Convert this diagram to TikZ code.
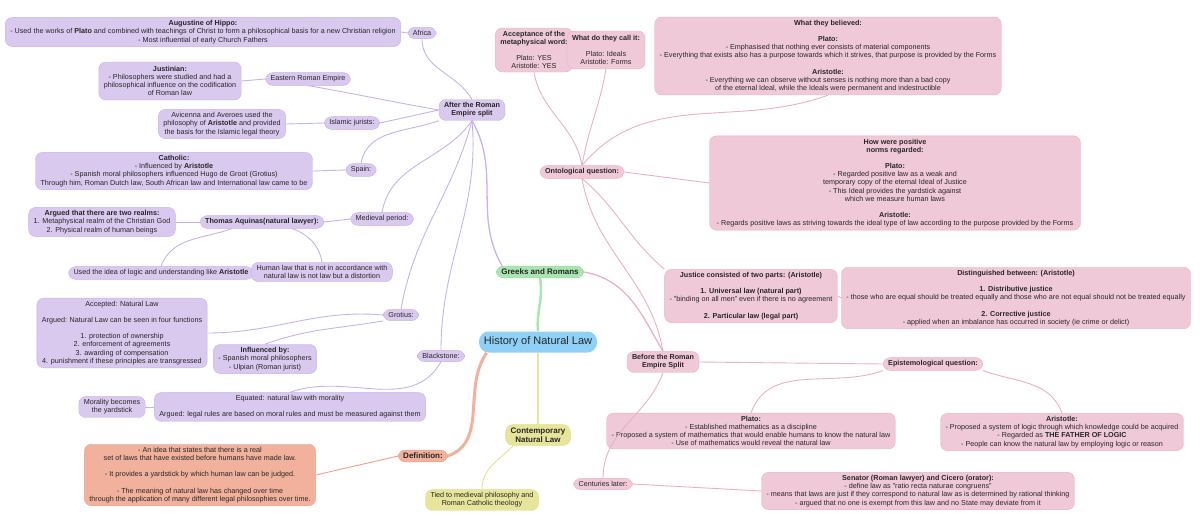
\documentclass[tikz,border=0pt]{standalone}
\usepackage{fontspec}
\setmainfont{Liberation Sans}
\usetikzlibrary{positioning}
\definecolor{purpFill}{HTML}{D9C9EE}
\definecolor{purpLine}{HTML}{C8B2EA}
\definecolor{pinkFill}{HTML}{F0C9D9}
\definecolor{pinkLine}{HTML}{EBAFC8}
\definecolor{rootFill}{HTML}{8FD0F6}
\definecolor{greenFill}{HTML}{A9E5B1}
\definecolor{yellFill}{HTML}{E7E59C}
\definecolor{yellLine}{HTML}{E2E08A}
\definecolor{redFill}{HTML}{F2B19C}
\definecolor{redLine}{HTML}{EFA08A}
\tikzset{
  box/.style = {rectangle, rounded corners=7pt, align=center, inner xsep=5pt, inner ysep=3pt, font=\fontsize{7.2}{8.2}\selectfont, text=black!85},
  purple/.style = {box, fill=purpFill, draw=purpLine},
  pink/.style = {box, fill=pinkFill, draw=pinkLine},
  yell/.style = {box, fill=yellFill, draw=yellLine},
  salmon/.style = {box, fill=redFill, draw=redLine},
  pedge/.style = {purpLine, line width=0.9pt},
  kedge/.style = {pinkLine, line width=0.9pt},
}
\begin{document}
\begin{tikzpicture}[x=1pt, y=-1pt]
\useasboundingbox (0,0) rectangle (1200,528);

% Root and main branches
\node[box, fill=rootFill, font=\fontsize{11}{13}\selectfont, minimum width=118pt, minimum height=21pt, rounded corners=10pt] (root) at (538,342) {History of Natural Law};
\node[box, fill=greenFill, draw=greenFill!80!black!20!greenFill, font=\fontsize{8}{9}\selectfont\bfseries] (greek) at (540,272) {Greeks and Romans};
\node[yell, font=\fontsize{8}{9}\selectfont\bfseries] (contemp) at (538,435) {Contemporary\\Natural Law};
\node[yell] (tied) at (482,500) {Tied to medieval philosophy and\\Roman Catholic theology};
\node[salmon, font=\fontsize{8}{9}\selectfont\bfseries] (defn) at (423,456) {Definition:};
\node[salmon, minimum width=205pt] (defText) at (200,475) {- An idea that states that there is a real\\set of laws that have existed before humans have made law.\\[8pt]- It provides a yardstick by which human law can be judged.\\[8pt]- The meaning of natural law has changed over time\\through the application of many different legal philosophies over time.};

% After the split (purple)
\node[purple, font=\fontsize{7.2}{8.2}\selectfont\bfseries] (after) at (472,110) {After the Roman\\Empire split};
\node[purple] (africa) at (422,33) {Africa};
\node[purple, minimum width=372pt] (augustine) at (203,32) {\textbf{Augustine of Hippo:}\\- Used the works of \textbf{Plato} and combined with teachings of Christ to form a philosophical basis for a new Christian religion\\- Most influential of early Church Fathers};
\node[purple] (eastern) at (308,79) {Eastern Roman Empire};
\node[purple, minimum height=38pt] (justinian) at (170,81) {\textbf{Justinian:}\\- Philosophers were studied and had a\\philosophical influence on the codification\\of Roman law};
\node[purple] (islamic) at (352,123) {Islamic jurists:};
\node[purple] (avicenna) at (222,124) {Avicenna and Averoes used the\\philosophy of \textbf{Aristotle} and provided\\the basis for the Islamic legal theory};
\node[purple] (spain) at (361,170) {Spain:};
\node[purple] (catholic) at (174,171) {\textbf{Catholic:}\\- Influenced by \textbf{Aristotle}\\- Spanish moral philosophers influenced Hugo de Groot (Grotius)\\Through him, Roman Dutch law, South African law and International law came to be};
\node[purple] (medieval) at (382,219) {Medieval period:};
\node[purple, font=\fontsize{7.2}{8.2}\selectfont\bfseries] (aquinas) at (262,222) {Thomas Aquinas(natural lawyer):};
\node[purple] (realms) at (102,222) {\textbf{Argued that there are two realms:}\\1. Metaphysical realm of the Christian God\\2. Physical realm of human beings};
\node[purple] (logic) at (161,273) {Used the idea of logic and understanding like \textbf{Aristotle}};
\node[purple] (humanLaw) at (322,272) {Human law that is not in accordance with\\natural law is not law but a distortion};
\node[purple] (grotius) at (401,315) {Grotius:};
\node[purple] (accepted) at (122,333) {Accepted: Natural Law\\[8pt]Argued: Natural Law can be seen in four functions\\[8pt]1. protection of ownership\\2. enforcement of agreements\\3. awarding of compensation\\4. punishment if these principles are transgressed};
\node[purple] (influenced) at (265,359) {\textbf{Influenced by:}\\- Spanish moral philosophers\\- Ulpian (Roman jurist)};
\node[purple] (blackstone) at (441,356) {Blackstone:};
\node[purple, minimum width=238pt] (equated) at (290,407) {Equated: natural law with morality\\[8pt]Argued: legal rules are based on moral rules and must be measured against them};
\node[purple] (morality) at (112,407) {Morality becomes\\the yardstick};

% Before the split (pink)
\node[pink, font=\fontsize{7.2}{8.2}\selectfont\bfseries] (before) at (663,362) {Before the Roman\\Empire Split};
\node[pink, font=\fontsize{7.2}{8.2}\selectfont\bfseries] (onto) at (582,172) {Ontological question:};
\node[pink, minimum height=44pt] (accept) at (534,50) {\textbf{Acceptance of the}\\\textbf{metaphysical word:}\\[8pt]Plato: YES\\Aristotle: YES};
\node[pink, minimum height=38pt] (callIt) at (606,50) {\textbf{What do they call it:}\\[8pt]Plato: Ideals\\Aristotle: Forms};
\node[pink, minimum width=343pt] (believed) at (828,56) {\textbf{What they believed:}\\[8pt]\textbf{Plato:}\\- Emphasised that nothing ever consists of material components\\- Everything that exists also has a purpose towards which it strives, that purpose is provided by the Forms\\[8pt]\textbf{Aristotle:}\\- Everything we can observe without senses is nothing more than a bad copy\\of the eternal Ideal, while the Ideals were permanent and indestructible};
\node[pink, minimum width=371pt] (positive) at (895,183) {\textbf{How were positive}\\\textbf{norms regarded:}\\[8pt]\textbf{Plato:}\\- Regarded positive law as a weak and\\temporary copy of the eternal Ideal of Justice\\- This Ideal provides the yardstick against\\which we measure human laws\\[8pt]\textbf{Aristotle:}\\- Regards positive laws as striving towards the ideal type of law according to the purpose provided by the Forms};
\node[pink, minimum width=164pt] (justice) at (751,296) {\textbf{Justice consisted of two parts: (Aristotle)}\\[8pt]\textbf{1. Universal law (natural part)}\\- "binding on all men" even if there is no agreement\\[8pt]\textbf{2. Particular law (legal part)}};
\node[pink, minimum width=327pt] (distinguished) at (1016,298) {\textbf{Distinguished between: (Aristotle)}\\[8pt]\textbf{1. Distributive justice}\\- those who are equal should be treated equally and those who are not equal should not be treated equally\\[8pt]\textbf{2. Corrective justice}\\- applied when an imbalance has occurred in society (ie crime or delict)};
\node[pink, font=\fontsize{7.2}{8.2}\selectfont\bfseries] (episte) at (933,364) {Epistemological question:};
\node[pink, minimum width=208pt] (platoEp) at (751,431) {\textbf{Plato:}\\- Established mathematics as a discipline\\- Proposed a system of mathematics that would enable humans to know the natural law\\- Use of mathematics would reveal the natural law};
\node[pink, minimum width=232pt] (aristEp) at (1062,432) {\textbf{Aristotle:}\\- Proposed a system of logic through which knowledge could be acquired\\- Regarded as \textbf{THE FATHER OF LOGIC}\\- People can know the natural law by employing logic or reason};
\node[pink] (centuries) at (603,484) {Centuries later:};
\node[pink, minimum width=296pt] (senator) at (918,491) {\textbf{Senator (Roman lawyer) and Cicero (orator):}\\- define law as "ratio recta naturae congruens"\\- means that laws are just if they correspond to natural law as is determined by rational thinking\\- argued that no one is exempt from this law and no State may deviate from it};

% Root arrows
\draw[greenFill, line width=2.5pt] (root.north) to[out=95,in=-80] (greek.south);
\draw[yellFill, line width=2.5pt] (root.south) to[out=-90,in=90] (contemp.north);
\draw[redFill, line width=3pt] (root.south west) ++(8,0) to[out=235,in=20] (defn.east);
\draw[yellLine, line width=0.8pt] (contemp.south west) ++(8,0) to[out=225,in=90] (tied.north);
\draw[redLine, line width=0.9pt] (defn.west) -- (defText.east);

% Greek branches
\draw[purpLine, line width=1.3pt] (greek.north west) ++(6,0) to[out=120,in=-60] (after.south);
\draw[pinkLine, line width=1.3pt] (greek.east) to[out=-10,in=120] (before.north);

% After the split - arrows
\draw[pedge] (after.north) to[out=120,in=-90] (africa.south);
\draw[pedge] (africa.west) -- (augustine.east);
\draw[pedge] (after.west) to[out=170,in=-10] (eastern.south);
\draw[pedge] (eastern.west) -- (justinian.east);
\draw[pedge] (after.west) -- (islamic.east);
\draw[pedge] (islamic.west) -- (avicenna.east);
\draw[pedge] (after.south west) to[out=200,in=80] (spain.north);
\draw[pedge] (spain.west) -- (catholic.east);
\draw[pedge] (after.south) to[out=235,in=80] (medieval.north);
\draw[pedge] (medieval.west) -- (aquinas.east);
\draw[pedge] (aquinas.west) -- (realms.east);
\draw[pedge] (aquinas.south) ++(-30,0) to[out=200,in=70] (logic.north);
\draw[pedge] (aquinas.south) ++(30,0) to[out=-20,in=100] (humanLaw.north);
\draw[pedge] (after.south) to[out=-105,in=80] (grotius.north);
\draw[pedge] (grotius.west) to[out=175,in=0] (accepted.east);
\draw[pedge] (grotius.south west) to[out=190,in=20] (influenced.north);
\draw[pedge] (after.south) to[out=-85,in=90] (blackstone.north);
\draw[pedge] (blackstone.south) to[out=-120,in=20] (equated.north);
\draw[pedge] (equated.west) -- (morality.east);

% Before the split - arrows
\draw[kedge] (before.north) to[out=100,in=-80] (onto.south);
\draw[kedge] (onto.north) to[out=100,in=-80] (accept.south);
\draw[kedge] (onto.north) to[out=80,in=-100] (callIt.south);
\draw[kedge] (onto.north) to[out=50,in=200] (believed.south);
\draw[kedge] (onto.east) -- (positive.west);
\draw[kedge] (onto.south) to[out=-40,in=140] (justice.north west);
\draw[kedge] (justice.east) -- (distinguished.west);
\draw[kedge] (before.east) -- (episte.west);
\draw[kedge] (episte.south west) to[out=200,in=70] (platoEp.north);
\draw[kedge] (episte.south east) to[out=-20,in=110] (aristEp.north);
\draw[kedge] (before.south) to[out=-110,in=90] (centuries.north);
\draw[kedge] (centuries.east) -- (senator.west);

\end{tikzpicture}
\end{document}
